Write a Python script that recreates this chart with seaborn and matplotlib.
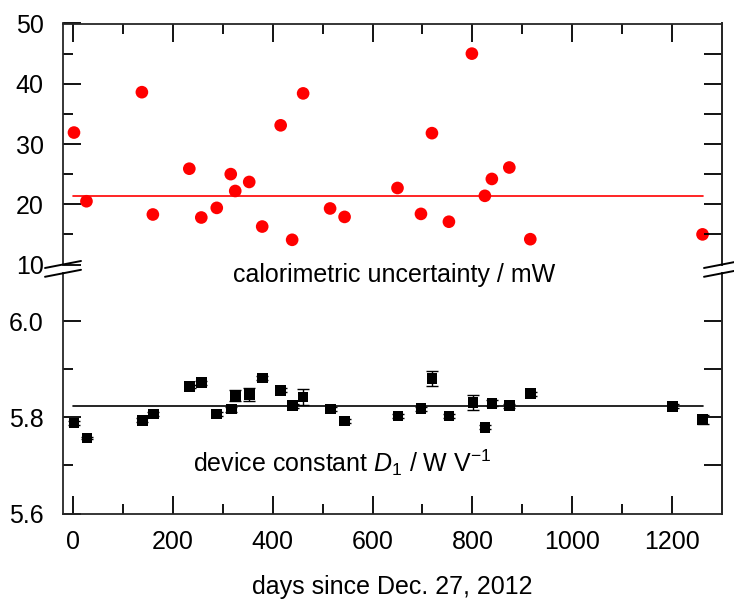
import matplotlib
matplotlib.use("Agg")
import matplotlib.pyplot as plt
from matplotlib.lines import Line2D
import seaborn as sns

# ── data ────────────────────────────────────────────────────
days_unc = [2, 27, 138, 160, 233, 257, 288, 316, 325, 353, 379, 416, 439,
            461, 515, 544, 650, 697, 719, 753, 799, 825, 839, 874, 916, 1261]
unc_mw = [31.9, 20.5, 38.6, 18.3, 25.9, 17.8, 19.4, 25.0, 22.2, 23.7, 16.3,
          33.1, 14.1, 38.4, 19.3, 17.9, 22.7, 18.4, 31.8, 17.1, 45.0, 21.4,
          24.2, 26.1, 14.2, 15.0]
unc_mean = 21.4

days_d1 = [2, 28, 139, 161, 234, 257, 288, 317, 325, 353, 379, 416, 440, 461,
           516, 544, 651, 697, 719, 753, 801, 825, 839, 874, 917, 1201, 1261]
d1 = [5.788, 5.757, 5.794, 5.807, 5.864, 5.872, 5.807, 5.817, 5.845, 5.847,
      5.882, 5.856, 5.824, 5.842, 5.817, 5.792, 5.803, 5.818, 5.881, 5.803,
      5.831, 5.779, 5.829, 5.824, 5.849, 5.823, 5.795]
d1_err = [0.005, 0.003, 0.004, 0.004, 0.004, 0.004, 0.004, 0.005, 0.011, 0.014,
          0.004, 0.004, 0.004, 0.017, 0.004, 0.004, 0.004, 0.004, 0.015, 0.004,
          0.016, 0.004, 0.006, 0.004, 0.004, 0.004, 0.009]
d1_mean = 5.823
mean_span = [0, 1261]

sns.set_theme(style="ticks")
plt.rcParams["font.family"] = ["Liberation Sans", "DejaVu Sans"]
plt.rcParams["mathtext.fontset"] = "custom"
plt.rcParams["mathtext.rm"] = "Liberation Sans"
plt.rcParams["mathtext.it"] = "Liberation Sans:italic"
plt.rcParams["text.color"] = "black"
plt.rcParams["axes.labelcolor"] = "black"

FS = 18
LW = 1.3
W, H = 734, 601

fig = plt.figure(figsize=(W / 100, H / 100), dpi=100)
left, width = 63 / W, (722 - 63) / W
ax1 = fig.add_axes([left, 1 - 264.5 / H, width, (264.5 - 23.5) / H])
ax2 = fig.add_axes([left, 1 - 513.5 / H, width, (513.5 - 273) / H])

# top panel: calorimetric uncertainty
sns.scatterplot(x=days_unc, y=unc_mw, color="red", s=83, edgecolor="none",
                ax=ax1, zorder=3)
sns.lineplot(x=mean_span, y=[unc_mean, unc_mean], color="red", lw=1.2, ax=ax1)
ax1.set_ylim(10, 50)
ax1.set_yticks([10, 20, 30, 40, 50])
ax1.set_yticks([15, 25, 35, 45], minor=True)

# bottom panel: device constant
ax2.errorbar(days_d1, d1, yerr=d1_err, fmt="none", ecolor="black",
             elinewidth=1.0, capsize=4.2, capthick=1.0, zorder=2)
sns.scatterplot(x=days_d1, y=d1, color="black", marker="s", s=59,
                edgecolor="none", ax=ax2, zorder=3)
sns.lineplot(x=mean_span, y=[d1_mean, d1_mean], color="black", lw=1.2, ax=ax2)
ax2.set_ylim(5.6, 6.1)
ax2.set_yticks([5.6, 5.8, 6.0])
ax2.set_yticklabels(["5.6", "5.8", "6.0"])
ax2.set_yticks([5.7, 5.9], minor=True)

for ax in (ax1, ax2):
    ax.set_xlim(-20, 1300)
    ax.set_xticks(range(0, 1201, 200))
    ax.set_xticks(range(100, 1101, 200), minor=True)
    for s in ax.spines.values():
        s.set_linewidth(LW)
    ax.tick_params(which="both", direction="in", width=LW, colors="black",
                   labelsize=FS, right=False)
    ax.tick_params(which="major", length=13)
    ax.tick_params(which="minor", length=7.2)
    ax.tick_params(axis="y", pad=14)

ax1.spines["bottom"].set_visible(False)
ax1.tick_params(axis="x", which="both", bottom=False, top=True,
                labelbottom=False)
ax2.spines["top"].set_visible(False)
ax2.tick_params(axis="x", which="both", bottom=True, top=False, pad=12)
ax2.set_xticklabels([str(v) for v in range(0, 1201, 200)])

# right-hand ticks: all the same length
for ax, lim, ticks in ((ax1, (10, 50), [15, 20, 25, 30, 35, 40, 45]),
                       (ax2, (5.6, 6.1), [5.7, 5.8, 5.9, 6.0])):
    tw = ax.twinx()
    tw.set_ylim(*lim)
    tw.set_yticks(ticks)
    tw.tick_params(axis="y", direction="in", length=13, width=LW,
                   labelright=False, colors="black")
    for name, s in tw.spines.items():
        s.set_visible(name == "right")
        s.set_linewidth(LW)
    tw.grid(False)

ax1.set_xlabel("")
ax2.set_xlabel("days since Dec. 27, 2012", fontsize=FS, labelpad=15,
               color="black")

ax2.text(320, 6.081, "calorimetric uncertainty / mW", fontsize=FS,
         color="black", ha="left", va="baseline", clip_on=False)
ax2.text(240, 5.686, r"device constant $D_1$ / W V$^{-1}$", fontsize=FS,
         color="black", ha="left", va="baseline")

# axis-break marks on both side spines
for xs in (63, 722):
    for ys in (264.5, 273.3):
        fig.add_artist(Line2D([(xs - 18) / W, (xs + 18) / W],
                              [1 - (ys + 3.5) / H, 1 - (ys - 3.5) / H],
                              transform=fig.transFigure, color="black",
                              lw=1.4))

plt.savefig("out.png", dpi=100)
plt.close()
